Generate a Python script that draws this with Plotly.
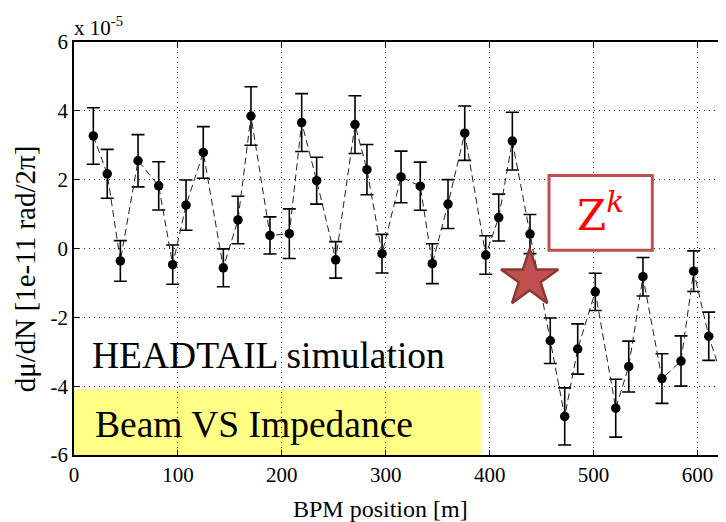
import plotly.graph_objects as go

# BPM positions [m]
bpm_pos = [18.6, 32.0, 44.6, 61.6, 81.5, 95.0, 107.8, 124.4, 143.7, 157.8,
           170.3, 188.6, 207.2, 219.1, 233.5, 251.8, 270.4, 281.9, 296.4, 314.7,
           333.2, 344.8, 359.9, 376.0, 396.2, 408.7, 421.8, 438.8, 458.3, 472.2,
           484.7, 501.6, 521.3, 533.8, 547.5, 565.8, 584.1, 596.3, 610.8, 627.4]
# dmu/dN values (x 1e-5)
dmu_dn = [3.27, 2.17, -0.36, 2.55, 1.82, -0.47, 1.26, 2.79, -0.56, 0.83,
          3.85, 0.38, 0.43, 3.66, 1.97, -0.33, 3.60, 2.29, -0.15, 2.08,
          1.81, -0.44, 1.29, 3.35, -0.19, 0.90, 3.12, 0.42, -2.68, -4.88,
          -2.92, -1.26, -4.64, -3.43, -0.82, -3.78, -3.27, -0.66, -2.55, -4.10]
# error bar half-lengths (x 1e-5)
dmu_err = [0.82, 0.71, 0.59, 0.76, 0.70, 0.57, 0.73, 0.75, 0.55, 0.69,
           0.85, 0.54, 0.72, 0.84, 0.68, 0.53, 0.84, 0.73, 0.56, 0.75,
           0.70, 0.58, 0.71, 0.79, 0.56, 0.68, 0.84, 0.57, 0.66, 0.83,
           0.73, 0.54, 0.84, 0.74, 0.56, 0.72, 0.73, 0.59, 0.70, 0.77]

x_tickvals = [0, 100, 200, 300, 400, 500, 600]
x_ticktext = ["0", "100", "200", "300", "400", "500", "600"]
y_tickvals = [-6, -4, -2, 0, 2, 4, 6]
y_ticktext = ["-6", "-4", "-2", "0", "2", "4", "6"]

X_RANGE = [0, 627.4]
Y_RANGE = [-6, 6]

# decorations (data coordinates)
STAR_POS = [438.5, -0.88]
ZK_BOX = [457.1, -0.05, 556.5, 2.12]
YELLOW_BOX = [0, -6, 391.6, -4.10]

SERIF = "Liberation Serif, Times New Roman, serif"

fig = go.Figure()

fig.add_trace(go.Scatter(
    x=bpm_pos, y=dmu_dn,
    mode="lines+markers",
    line=dict(color="#222222", width=1, dash="7px,4px"),
    marker=dict(color="black", size=9.5, symbol="circle"),
    error_y=dict(type="data", array=dmu_err, visible=True,
                 color="black", thickness=1.6, width=6.5),
    showlegend=False,
))

fig.add_trace(go.Scatter(
    x=[STAR_POS[0]], y=[STAR_POS[1]],
    mode="markers",
    marker=dict(symbol="star", size=43, color="#c0504d",
                line=dict(color="#8c3836", width=2.5)),
    showlegend=False,
))

fig.add_shape(type="rect", xref="x", yref="y",
              x0=YELLOW_BOX[0], y0=YELLOW_BOX[1], x1=YELLOW_BOX[2], y1=YELLOW_BOX[3],
              fillcolor="#ffff85", line=dict(width=0), layer="below")
fig.add_shape(type="rect", xref="x", yref="y",
              x0=ZK_BOX[0], y0=ZK_BOX[1], x1=ZK_BOX[2], y1=ZK_BOX[3],
              fillcolor="white", line=dict(color="#c0504d", width=3), layer="above")

fig.add_annotation(x=(ZK_BOX[0] + ZK_BOX[2]) / 2, y=(ZK_BOX[1] + ZK_BOX[3]) / 2,
                   xref="x", yref="y", text="Z<sup><i>k</i></sup>", showarrow=False,
                   font=dict(family="DejaVu Serif", size=42, color="#ff0000"),
                   xanchor="center", yanchor="middle")
fig.add_annotation(x=15.4, y=-3.12, xref="x", yref="y",
                   text="HEADTAIL simulation", showarrow=False,
                   font=dict(family=SERIF, size=37.5, color="black"),
                   xanchor="left", yanchor="middle")
fig.add_annotation(x=18.3, y=-5.12, xref="x", yref="y",
                   text="Beam VS Impedance", showarrow=False,
                   font=dict(family=SERIF, size=37.5, color="black"),
                   xanchor="left", yanchor="middle")
fig.add_annotation(x=-0.003, y=1.0, xref="paper", yref="paper",
                   text="x 10<sup>-5</sup>", showarrow=False,
                   font=dict(family=SERIF, size=21, color="black"),
                   xanchor="left", yanchor="bottom", yshift=0)
fig.add_annotation(x=-0.075, y=0.45, xref="paper", yref="paper",
                   text="dμ/dN [1e-11 rad/2π]", showarrow=False, textangle=-90,
                   font=dict(family=SERIF, size=29, color="black"),
                   xanchor="center", yanchor="middle")
fig.add_annotation(x=0.47, y=-0.13, xref="paper", yref="paper",
                   text="BPM position [m]", showarrow=False,
                   font=dict(family=SERIF, size=24, color="black"),
                   xanchor="center", yanchor="middle")

axis_common = dict(
    showline=True, linecolor="black", linewidth=1.5,
    ticks="inside", ticklen=5, tickcolor="black", tickwidth=1,
    showgrid=True, gridcolor="#333333", gridwidth=1, griddash="1px,4px",
    zeroline=False, automargin=False,
    tickfont=dict(family=SERIF, size=21, color="black"),
)

fig.update_xaxes(range=X_RANGE, tickvals=x_tickvals, ticktext=x_ticktext,
                 mirror="ticks", **axis_common)
fig.update_yaxes(range=Y_RANGE, tickvals=y_tickvals, ticktext=y_ticktext,
                 **axis_common)

# the page body adds an 8px offset, so the figure is 718x514 placed at (8, 8)
fig.update_layout(
    width=718, height=514,
    margin=dict(l=66, r=0, t=34, b=67),
    plot_bgcolor="white", paper_bgcolor="white",
    font=dict(family=SERIF, color="black"),
)

fig.write_html("out.html")
